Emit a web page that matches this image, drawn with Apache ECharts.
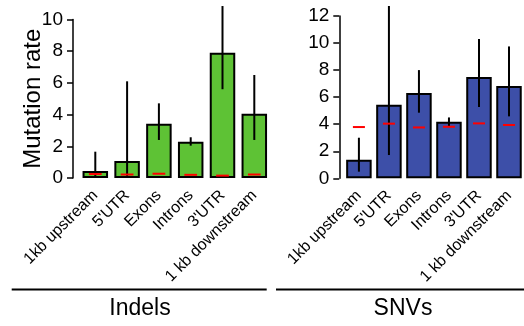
<!DOCTYPE html>
<html>
<head>
<meta charset="utf-8">
<script src="https://cdn.jsdelivr.net/npm/echarts@6/dist/echarts.min.js"></script>
<style>html,body{margin:0;padding:0;background:#fff;}#c{width:524px;height:326px;}</style>
</head>
<body>
<div id="c"></div>
<script>
const categories = ['1kb upstream', "5'UTR", 'Exons', 'Introns', "3'UTR", '1 kb downstream'];
const indelRate = [0.44, 1.07, 3.43, 2.29, 7.9, 4.06];
const indelLow = [0, 0, 2.4, 2.04, 5.6, 2.4];
const indelHigh = [1.66, 6.1, 4.71, 2.57, 10.85, 6.5];
const indelExpected = [0.25, 0.22, 0.27, 0.2, 0.15, 0.22];
const snvRate = [1.37, 5.44, 6.3, 4.19, 7.49, 6.82];
const snvLow = [0.49, 1.72, 4.85, 3.84, 5.27, 4.58];
const snvHigh = [3.0, 12.74, 8.0, 4.5, 10.3, 9.75];
const snvExpected = [3.79, 4.04, 3.76, 3.81, 4.06, 3.94];
const indelTicks = [0, 2, 4, 6, 8, 10];
const snvTicks = [0, 2, 4, 6, 8, 10, 12];
const panelTitles = ['Indels', 'SNVs'];
const yTitle = 'Mutation rate';

const FONT = 'Liberation Sans, Arial, Helvetica, sans-serif';
const chart = echarts.init(document.getElementById('c'), null, {renderer: 'canvas'});

function errRender(params, api) {
  const lo = api.coord([api.value(0), api.value(1)]);
  const hi = api.coord([api.value(0), api.value(2)]);
  return {type: 'line', shape: {x1: lo[0], y1: lo[1], x2: hi[0], y2: hi[1]},
    style: {stroke: '#000', lineWidth: 2}};
}
function markRender(params, api) {
  const p = api.coord([api.value(0), api.value(1)]);
  const w = api.size([1, 0])[0] * 0.4;
  return {type: 'line', shape: {x1: p[0] - w / 2, y1: p[1], x2: p[0] + w / 2, y2: p[1]},
    style: {stroke: '#ff0000', lineWidth: 2}};
}
function xAxis(gi) {
  return {type: 'category', gridIndex: gi, data: categories,
    axisLine: {show: false}, axisTick: {show: false},
    axisLabel: {rotate: 45, margin: 15, color: '#000', fontSize: 16, fontFamily: FONT, interval: 0}};
}
function yAxis(gi, offset, name, ticks) {
  return {type: 'value', gridIndex: gi, min: ticks[0], max: ticks[ticks.length - 1], interval: ticks[1] - ticks[0], offset: offset,
    name: name, nameLocation: 'middle', nameGap: 28, nameMoveOverlap: false,
    nameTextStyle: {color: '#000', fontSize: 24, fontFamily: FONT},
    axisLine: {show: true, lineStyle: {color: '#000', width: 1.5}},
    axisTick: {show: true, length: 6, lineStyle: {color: '#000', width: 1.5}},
    axisLabel: {color: '#000', fontSize: 19, fontFamily: FONT, margin: 10},
    splitLine: {show: false}};
}
function barSeries(gi, data, color) {
  return {type: 'bar', xAxisIndex: gi, yAxisIndex: gi, data: data, barWidth: 25.5,
    itemStyle: {color: color, borderColor: '#000', borderWidth: 2}, silent: true};
}
function errSeries(gi, lo, hi) {
  return {type: 'custom', xAxisIndex: gi, yAxisIndex: gi, renderItem: errRender, z: 3,
    data: categories.map((c, i) => [i, lo[i], hi[i]]), silent: true};
}
function markSeries(gi, vals) {
  return {type: 'custom', xAxisIndex: gi, yAxisIndex: gi, renderItem: markRender, z: 4,
    data: categories.map((c, i) => [i, vals[i]]), silent: true};
}

chart.setOption({
  animation: false,
  grid: [
    {left: 79.4, top: 19.5, width: 190.8, height: 158.5},
    {left: 343.9, top: 16, width: 191.4, height: 162.3}
  ],
  xAxis: [xAxis(0), xAxis(1)],
  yAxis: [yAxis(0, 6.4, yTitle, indelTicks), yAxis(1, 4.6, '', snvTicks)],
  series: [
    barSeries(0, indelRate, '#5ec235'), errSeries(0, indelLow, indelHigh), markSeries(0, indelExpected),
    barSeries(1, snvRate, '#3d4fa8'), errSeries(1, snvLow, snvHigh), markSeries(1, snvExpected)
  ],
  graphic: [
    {type: 'line', shape: {x1: 11.7, y1: 289.5, x2: 266.7, y2: 289.5}, style: {stroke: '#000', lineWidth: 2}},
    {type: 'line', shape: {x1: 276, y1: 289.5, x2: 524, y2: 289.5}, style: {stroke: '#000', lineWidth: 2}},
    {type: 'text', x: 140, y: 309, style: {text: panelTitles[0], font: '23px ' + FONT, fill: '#000', textAlign: 'center', textVerticalAlign: 'middle'}},
    {type: 'text', x: 403, y: 309, style: {text: panelTitles[1], font: '23px ' + FONT, fill: '#000', textAlign: 'center', textVerticalAlign: 'middle'}}
  ]
});
</script>
</body>
</html>
